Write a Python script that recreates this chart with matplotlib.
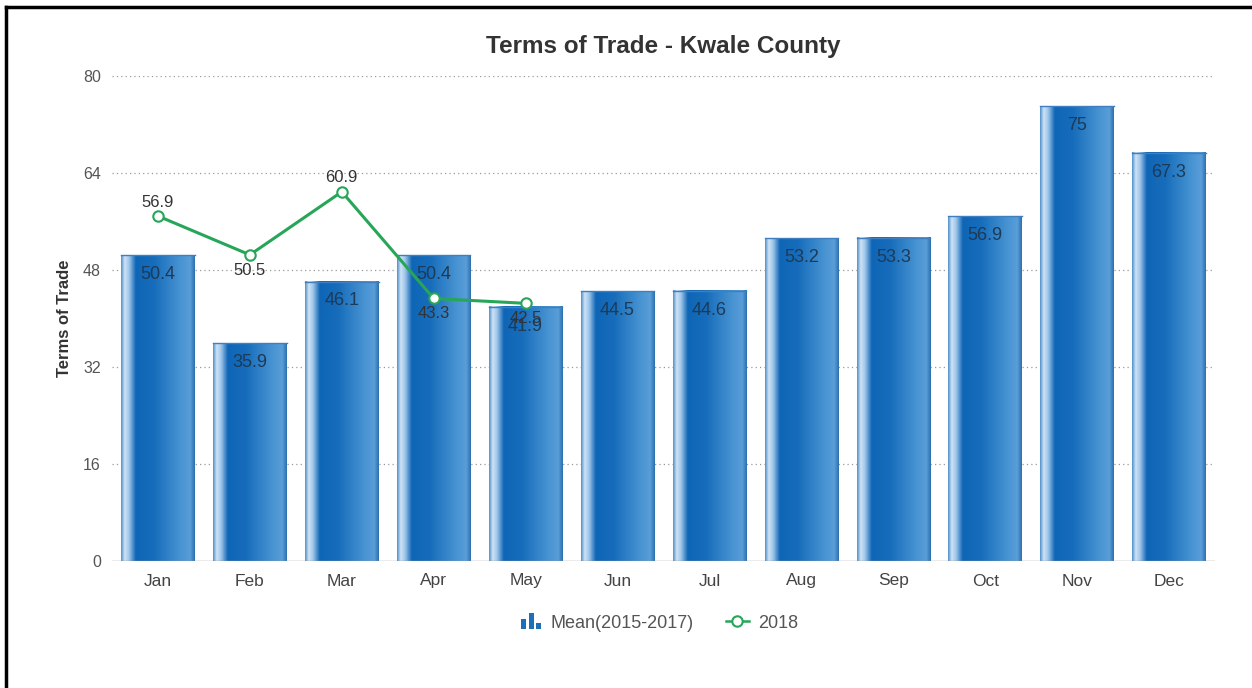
import numpy as np
import matplotlib
matplotlib.use("Agg")
import matplotlib.pyplot as plt
from matplotlib.colors import LinearSegmentedColormap
from matplotlib.legend_handler import HandlerBase
from matplotlib.patches import Rectangle
from matplotlib.lines import Line2D

months = ["Jan", "Feb", "Mar", "Apr", "May", "Jun", "Jul", "Aug", "Sep", "Oct", "Nov", "Dec"]
mean_2015_2017 = [50.4, 35.9, 46.1, 50.4, 41.9, 44.5, 44.6, 53.2, 53.3, 56.9, 75, 67.3]
values_2018 = [56.9, 50.5, 60.9, 43.3, 42.5]
label_side_2018 = ["above", "below", "above", "below", "below"]
y_ticks = [0, 16, 32, 48, 64, 80]

plt.rcParams['font.family'] = ['Liberation Sans', 'DejaVu Sans']

fig = plt.figure(figsize=(12.52, 6.88), dpi=100)
ax = fig.add_axes([112 / 1252, 1 - 561 / 688, (1215 - 112) / 1252, (561 - 76) / 688])

# cylinder-like horizontal shading for the bars
bar_cmap = LinearSegmentedColormap.from_list("barshade", [
    (0.00, "#4f8fca"),
    (0.05, "#cfe4f6"),
    (0.11, "#9cc4e8"),
    (0.20, "#0f66b6"),
    (0.45, "#176dbb"),
    (0.80, "#4793d2"),
    (0.94, "#5a9ed8"),
    (1.00, "#2b6fae"),
])
grad = np.linspace(0, 1, 256).reshape(1, -1)

width = 0.8
x = np.arange(len(months))
for xi, v in zip(x, mean_2015_2017):
    x0, x1 = xi - width / 2, xi + width / 2
    ax.imshow(grad, cmap=bar_cmap, extent=(x0, x1, 0, v), aspect="auto",
              zorder=2, interpolation="bilinear")
    ax.plot([x0, x1], [v, v], color="#3f7fbf", lw=1.0, zorder=2.1)
    ax.annotate(f"{v:g}", (xi, v), xytext=(0, -14), textcoords="offset points",
                ha="center", va="center", fontsize=13, color="#1d3a57", zorder=5)

# 2018 line
x18 = x[:len(values_2018)]
ax.plot(x18, values_2018, color="#27a558", lw=2.2, zorder=4,
        marker="o", markersize=7.5, markerfacecolor="white",
        markeredgecolor="#27a558", markeredgewidth=1.5)
for xi, v, side in zip(x18, values_2018, label_side_2018):
    dy = 10 if side == "above" else -11
    ax.annotate(f"{v:g}", (xi, v), xytext=(0, dy), textcoords="offset points",
                ha="center", va="center", fontsize=12, color="#333333", zorder=5)

ax.set_xlim(-0.5, len(months) - 0.5)
ax.set_ylim(0, 80)
ax.set_yticks(y_ticks)
ax.set_yticklabels([str(t) for t in y_ticks])
ax.set_xticks(x)
ax.set_xticklabels(months)
ax.tick_params(axis="y", length=0, pad=8, labelsize=11.5, labelcolor="#555555")
ax.tick_params(axis="x", length=0, pad=9, labelsize=12.5, labelcolor="#444444")
for t in y_ticks[1:]:
    ax.axhline(t, color="#9a9a9a", lw=0.9, ls=(0, (1, 2.5)), zorder=1)
ax.axhline(0, color="#9a9a9a", lw=1.0, zorder=3)
for s in ax.spines.values():
    s.set_visible(False)

ax.set_ylabel("Terms of Trade", fontsize=12, fontweight="bold", color="#333333", labelpad=8)
fig.text(0.5 * (112 + 1215) / 1252, 1 - 47 / 688, "Terms of Trade - Kwale County",
         ha="center", va="center", fontsize=17.5, fontweight="bold", color="#333333")


class BarIconHandler(HandlerBase):
    def create_artists(self, legend, orig_handle, xdescent, ydescent, width, height, fontsize, trans):
        arts = []
        bw = width * 0.22
        gap = width * 0.1
        heights = [0.8, 1.25, 0.45]
        x0 = xdescent + width * 0.15
        for i, h in enumerate(heights):
            r = Rectangle((x0 + i * (bw + gap), -ydescent - height * 0.1), bw, height * h,
                          facecolor="#1d6fba", edgecolor="none", transform=trans)
            arts.append(r)
        return arts


bar_handle = Rectangle((0, 0), 1, 1)
line_handle = Line2D([], [], color="#27a558", lw=1.8, marker="o", markersize=7.5,
                     markerfacecolor="white", markeredgecolor="#27a558", markeredgewidth=1.5)
leg = fig.legend([bar_handle, line_handle], ["Mean(2015-2017)", "2018"],
                 handler_map={Rectangle: BarIconHandler()},
                 loc="center", bbox_to_anchor=(658 / 1252, 1 - 623 / 688), ncol=2,
                 frameon=False, fontsize=13, handlelength=1.3, columnspacing=1.8,
                 handletextpad=0.5)
for t in leg.get_texts():
    t.set_color("#555555")

# outer frame lines along the left and top edges
fig.add_artist(Line2D([5.5 / 1252, 5.5 / 1252], [0, 1 - 7 / 688], color="black", lw=2.5,
                      transform=fig.transFigure))
fig.add_artist(Line2D([5.5 / 1252, 1], [1 - 7 / 688, 1 - 7 / 688], color="black", lw=2.5,
                      transform=fig.transFigure))

fig.savefig("out.png", dpi=100)
